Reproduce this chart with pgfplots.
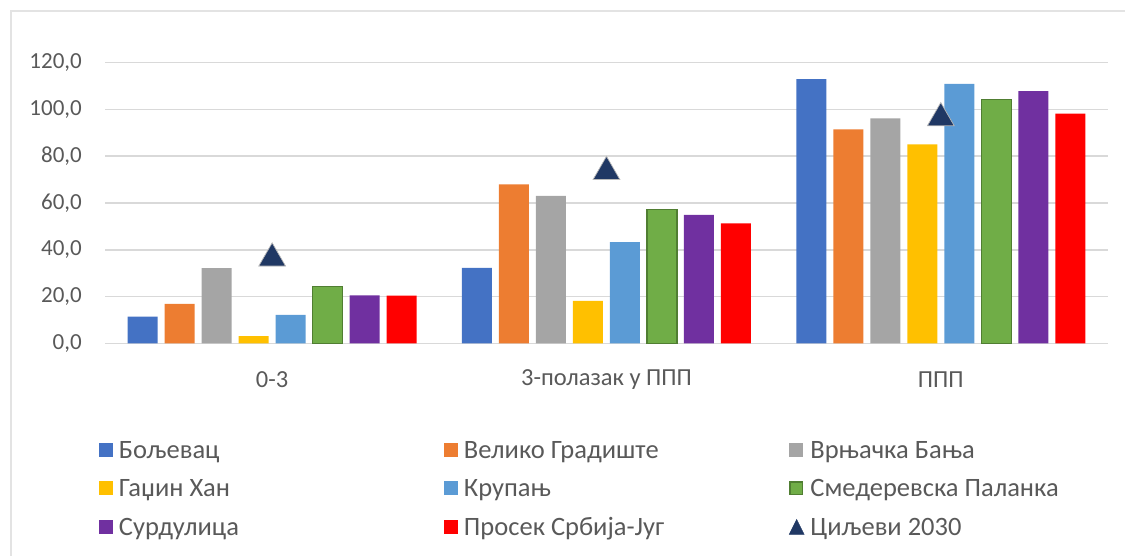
\documentclass[border=0pt]{standalone}
\usepackage{pgfplots}
\pgfplotsset{compat=1.18}
\usepackage{fontspec}
\setmainfont{Carlito}
\definecolor{cA}{HTML}{4472C4}
\definecolor{cB}{HTML}{ED7D31}
\definecolor{cC}{HTML}{A5A5A5}
\definecolor{cD}{HTML}{FFC000}
\definecolor{cE}{HTML}{5B9BD5}
\definecolor{cF}{HTML}{70AD47}
\definecolor{cFd}{HTML}{507E32}
\definecolor{cG}{HTML}{7030A0}
\definecolor{cH}{HTML}{FF0000}
\definecolor{navy}{HTML}{203864}
\definecolor{gridgray}{HTML}{D9D9D9}
\definecolor{bordergray}{HTML}{E3E3E3}
\definecolor{textgray}{HTML}{595959}
\newcommand{\legtxt}[1]{\makebox[327pt][l]{\hspace{4pt}\rule[-6pt]{0pt}{24pt}#1}}
\pgfplotsset{
  sqleg/.style={legend image code/.code={\fill[##1, draw=none] (0pt,-7pt) rectangle (14pt,7pt);}},
  sqlegb/.style={legend image code/.code={\draw[##1] (0.75pt,-6.25pt) rectangle (13.25pt,6.25pt);}},
  trileg/.style={legend image code/.code={\fill[navy] (0pt,-7.5pt) -- (15pt,-7.5pt) -- (7.5pt,7.5pt) -- cycle;}},
}
\begin{document}
\begin{tikzpicture}
\path[use as bounding box] (0pt,0pt) rectangle (1125pt,555pt);
\draw[color=bordergray, line width=2pt] (11pt,-10pt) -- (11pt,544pt) -- (1140pt,544pt);
\begin{axis}[
  at={(105pt,211.7pt)}, anchor=south west,
  scale only axis, width=1003pt, height=280.6pt,
  ybar, bar width=30pt,
  xmin=-0.5, xmax=2.5, ymin=0, ymax=120,
  xtick={0,1,2}, xticklabels={0-3, 3-полазак у ППП, ППП},
  ytick={0,20,...,120},
  axis x line*=bottom, axis y line*=left,
  y axis line style={draw=none},
  x axis line style={draw=gridgray, line width=1.6pt},
  major tick length=0pt,
  ymajorgrids, grid style={draw=gridgray, line width=1.6pt},
  tick label style={text=textgray},
  yticklabel style={font=\fontsize{23}{27}\selectfont, anchor=east, inner sep=0pt, xshift=-23pt,
    /pgf/number format/fixed, /pgf/number format/fixed zerofill,
    /pgf/number format/precision=1, /pgf/number format/use comma,
    /pgf/number format/assume math mode=true},
  xticklabel style={font=\fontsize{24.5}{29}\selectfont, anchor=center, inner sep=0pt, yshift=-36pt},
  legend columns=3, legend cell align=left,
  legend style={at={(-0.006,-0.3375)}, anchor=north west, draw=none, fill=none,
    inner sep=0pt, outer sep=0pt, row sep=15pt, column sep=0pt,
    font=\fontsize{26.5}{31}\selectfont, text=textgray},
  clip=false,
]
\addplot[fill=cA, draw=none, bar shift=-129.5pt, sqleg]
  coordinates {(0,11.4) (1,32.3) (2,113.0)};
\addlegendentry{\legtxt{Бољевац}}
\addplot[fill=cB, draw=none, bar shift=-92.5pt, sqleg]
  coordinates {(0,16.9) (1,68.0) (2,91.5)};
\addlegendentry{\legtxt{Велико Градиште}}
\addplot[fill=cC, draw=none, bar shift=-55.5pt, sqleg]
  coordinates {(0,32.2) (1,63.0) (2,96.2)};
\addlegendentry{\legtxt{Врњачка Бања}}
\addplot[fill=cD, draw=none, bar shift=-18.5pt, sqleg]
  coordinates {(0,3.1) (1,18.1) (2,85.1)};
\addlegendentry{\legtxt{Гаџин Хан}}
\addplot[fill=cE, draw=none, bar shift=18.5pt, sqleg]
  coordinates {(0,12.2) (1,43.3) (2,110.9)};
\addlegendentry{\legtxt{Крупањ}}
\addplot[fill=cF, draw=cFd, line width=1.5pt, bar shift=55.5pt, sqlegb]
  coordinates {(0,24.2) (1,57.3) (2,104.3)};
\addlegendentry{\legtxt{Смедеревска Паланка}}
\addplot[fill=cG, draw=none, bar shift=92.5pt, sqleg]
  coordinates {(0,20.5) (1,54.9) (2,107.8)};
\addlegendentry{\legtxt{Сурдулица}}
\addplot[fill=cH, draw=none, bar shift=129.5pt, sqleg]
  coordinates {(0,20.4) (1,51.3) (2,98.2)};
\addlegendentry{\legtxt{Просек Србија-Југ}}
\addplot[only marks, bar shift=0pt, mark=triangle*, mark size=15.5pt,
  mark options={fill=navy, draw=gray!55, line width=0.7pt, yshift=-3.9pt}, trileg]
  coordinates {(0,38) (1,75) (2,98)};
\addlegendentry{\legtxt{Циљеви 2030}}
\end{axis}
\end{tikzpicture}
\end{document}
